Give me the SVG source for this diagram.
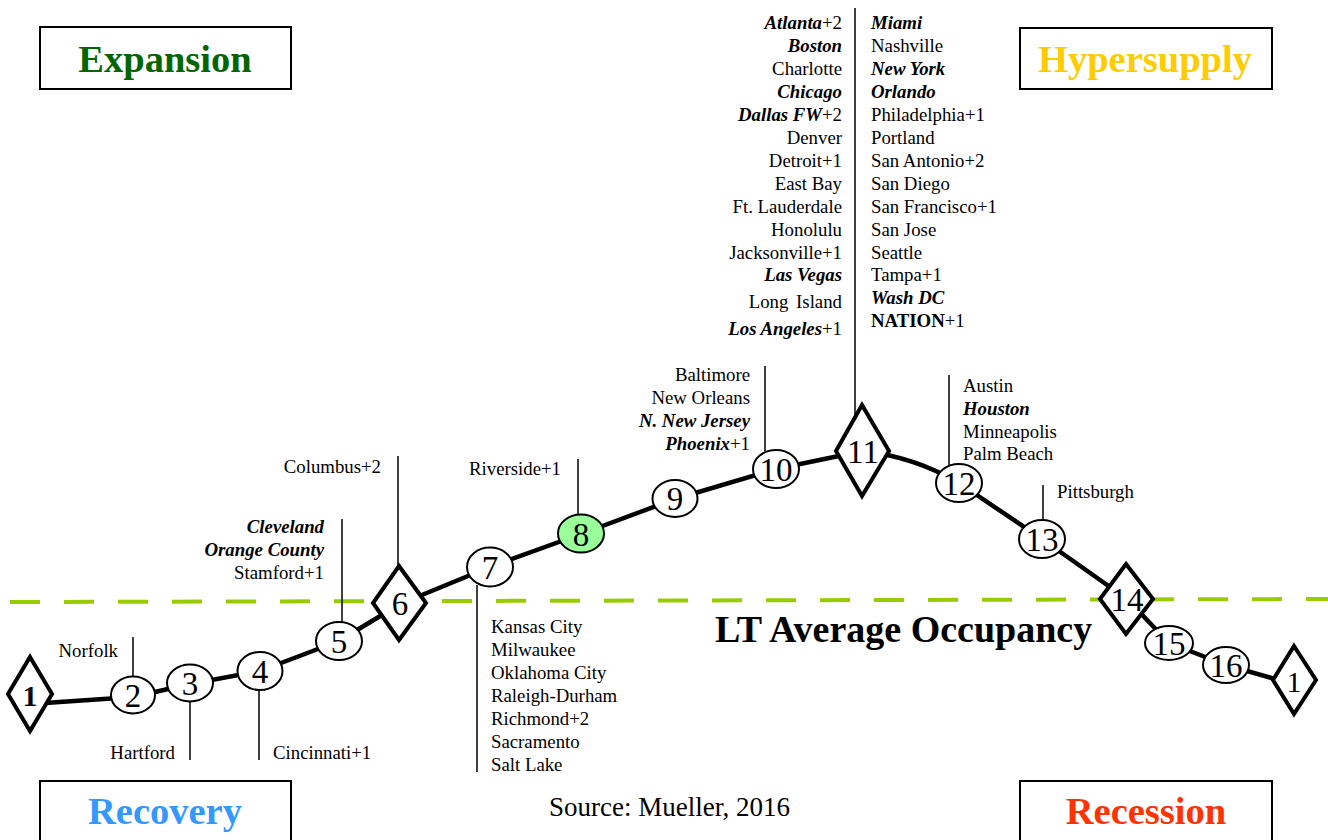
<svg xmlns="http://www.w3.org/2000/svg" width="1328" height="840" viewBox="0 0 1328 840">
  <style>
    text { font-family: "Liberation Serif", "Times New Roman", serif; fill: #000; }
    .city { font-size: 18.8px; }
    .r { text-anchor: end; }
    .bi { font-weight: bold; font-style: italic; }
    .b { font-weight: bold; }
    .num { font-size: 33px; text-anchor: middle; }
    .title { font-size: 38.5px; font-weight: bold; text-anchor: middle; }
    .box { fill: #fff; stroke: #000; stroke-width: 2; }
    .lead { stroke: #000; stroke-width: 1.5; fill: none; }
    .ell { fill: #fff; stroke: #000; stroke-width: 2; }
    .dia { fill: #fff; stroke: #000; stroke-width: 4; stroke-linejoin: miter; }
  </style>

  <rect width="1328" height="840" fill="#fff"/>

  <!-- phase boxes -->
  <g id="expansion">
    <rect class="box" x="40" y="27" width="251" height="62"/>
    <text class="title" x="165" y="72" style="fill:#006600">Expansion</text>
  </g>
  <g id="hypersupply">
    <rect class="box" x="1020" y="28" width="252" height="61"/>
    <text class="title" x="1145" y="72" style="fill:#FFCC00">Hypersupply</text>
  </g>
  <g id="recovery">
    <rect class="box" x="40" y="781" width="251" height="70"/>
    <text class="title" x="165" y="824" style="fill:#3399FF">Recovery</text>
  </g>
  <g id="recession">
    <rect class="box" x="1020" y="781" width="252" height="70"/>
    <text class="title" x="1146" y="824" style="fill:#FF3300">Recession</text>
  </g>

  <!-- long-term average occupancy line -->
  <g id="lt-average">
    <line x1="10" y1="602" x2="1328" y2="599" stroke="#99CC00" stroke-width="4" stroke-dasharray="30 24"/>
    <text x="715" y="642" style="font-size:38px;font-weight:bold">LT Average Occupancy</text>
  </g>

  <g id="source">
    <text x="549" y="816" style="font-size:27px">Source: Mueller, 2016</text>
  </g>

  <!-- cycle curve and leader lines -->
  <g id="connectors">
    <path d="M45,703 L133,697 L190,684 L260,671 L339,641 L400,604 L490,567 L581,534 L675,499 L776,469 L863,451 Q915,457 959,483 L1042,539 L1127,599 L1169,643 L1226,665 L1275,679" fill="none" stroke="#000" stroke-width="4.5" stroke-linejoin="round"/>
    <line class="lead" x1="133" y1="637" x2="133" y2="677"/>
    <line class="lead" x1="190" y1="700" x2="190" y2="760"/>
    <line class="lead" x1="259" y1="688" x2="259" y2="760"/>
    <line class="lead" x1="342" y1="519" x2="342" y2="623"/>
    <line class="lead" x1="398" y1="456" x2="398" y2="567"/>
    <line class="lead" x1="477" y1="585" x2="477" y2="772"/>
    <line class="lead" x1="578" y1="459" x2="578" y2="515"/>
    <line class="lead" x1="765" y1="366" x2="765" y2="451"/>
    <line class="lead" x1="855" y1="8" x2="855" y2="415"/>
    <line class="lead" x1="949" y1="375" x2="949" y2="469"/>
    <line class="lead" x1="1043" y1="485" x2="1043" y2="521"/>
  </g>

  <!-- cycle points -->
  <g id="n1-left">
    <polygon class="dia" points="30,657 52,694 30,731 8,694"/>
    <text class="num b" x="30" y="706" style="font-size:30px">1</text>
  </g>
  <g id="n2">
    <ellipse class="ell" cx="133" cy="695" rx="22" ry="18.5"/>
    <text class="num" x="133" y="707">2</text>
  </g>
  <g id="n3">
    <ellipse class="ell" cx="190" cy="683" rx="23" ry="18.5"/>
    <text class="num" x="190" y="695">3</text>
  </g>
  <g id="n4">
    <ellipse class="ell" cx="260" cy="671" rx="22.5" ry="19"/>
    <text class="num" x="260" y="683">4</text>
  </g>
  <g id="n5">
    <ellipse class="ell" cx="339" cy="641" rx="23" ry="19"/>
    <text class="num" x="339" y="653">5</text>
  </g>
  <g id="n6">
    <polygon class="dia" points="399,566 426,603 399,640 373,603"/>
    <text class="num" x="400" y="615">6</text>
  </g>
  <g id="n7">
    <ellipse class="ell" cx="490" cy="567" rx="23" ry="19.5"/>
    <text class="num" x="490" y="579">7</text>
  </g>
  <g id="n8">
    <ellipse class="ell" cx="581" cy="533.5" rx="23" ry="19" style="fill:#99FF99"/>
    <text class="num" x="581" y="546">8</text>
  </g>
  <g id="n9">
    <ellipse class="ell" cx="675" cy="498.5" rx="22.5" ry="18.5"/>
    <text class="num" x="675" y="510">9</text>
  </g>
  <g id="n10">
    <ellipse class="ell" cx="776" cy="469" rx="23" ry="19"/>
    <text class="num" x="776" y="481">10</text>
  </g>
  <g id="n11">
    <polygon class="dia" points="862,405 889,451 862,496 836,451"/>
    <text class="num" x="863" y="463">11</text>
  </g>
  <g id="n12">
    <ellipse class="ell" cx="959" cy="483" rx="23" ry="19"/>
    <text class="num" x="959" y="495">12</text>
  </g>
  <g id="n13">
    <ellipse class="ell" cx="1042" cy="539" rx="23" ry="19"/>
    <text class="num" x="1042" y="551">13</text>
  </g>
  <g id="n14">
    <polygon class="dia" points="1126,564 1153,599 1126,634 1100,599"/>
    <text class="num" x="1127" y="611">14</text>
  </g>
  <g id="n15">
    <ellipse class="ell" cx="1169" cy="643" rx="24" ry="17"/>
    <text class="num" x="1169" y="655">15</text>
  </g>
  <g id="n16">
    <ellipse class="ell" cx="1226" cy="665" rx="23" ry="18"/>
    <text class="num" x="1226" y="677">16</text>
  </g>
  <g id="n1-right">
    <polygon class="dia" points="1294,646 1316,680 1294,714 1273,680"/>
    <text class="num" x="1294" y="692" style="font-size:30px">1</text>
  </g>

  <!-- market labels -->
  <g id="labels-2-4" class="city">
    <text class="r" x="118" y="657">Norfolk</text>
    <text class="r" x="175" y="759">Hartford</text>
    <text x="273" y="759">Cincinnati+1</text>
  </g>
  <g id="labels-5" class="city">
    <text class="r bi" x="324" y="533">Cleveland</text>
    <text class="r bi" x="324" y="556">Orange County</text>
    <text class="r" x="324" y="579">Stamford+1</text>
  </g>
  <g id="labels-6" class="city">
    <text class="r" x="381" y="473">Columbus+2</text>
  </g>
  <g id="labels-7" class="city">
    <text x="491" y="633">Kansas City</text>
    <text x="491" y="656">Milwaukee</text>
    <text x="491" y="679">Oklahoma City</text>
    <text x="491" y="702">Raleigh-Durham</text>
    <text x="491" y="725">Richmond+2</text>
    <text x="491" y="748">Sacramento</text>
    <text x="491" y="771">Salt Lake</text>
  </g>
  <g id="labels-8" class="city">
    <text class="r" x="561" y="475">Riverside+1</text>
  </g>
  <g id="labels-10" class="city">
    <text class="r" x="750" y="381">Baltimore</text>
    <text class="r" x="750" y="404">New Orleans</text>
    <text class="r bi" x="750" y="427">N. New Jersey</text>
    <text class="r" x="750" y="450"><tspan class="bi">Phoenix</tspan>+1</text>
  </g>
  <g id="labels-11-left" class="city">
    <text class="r" x="842" y="28.5"><tspan class="bi">Atlanta</tspan>+2</text>
    <text class="r bi" x="842" y="51.5">Boston</text>
    <text class="r" x="842" y="74.5">Charlotte</text>
    <text class="r bi" x="842" y="97.5">Chicago</text>
    <text class="r" x="842" y="120.5"><tspan class="bi">Dallas FW</tspan>+2</text>
    <text class="r" x="842" y="143.5">Denver</text>
    <text class="r" x="842" y="166.5">Detroit+1</text>
    <text class="r" x="842" y="189.5">East Bay</text>
    <text class="r" x="842" y="212.5">Ft. Lauderdale</text>
    <text class="r" x="842" y="235.5">Honolulu</text>
    <text class="r" x="842" y="258.5">Jacksonville+1</text>
    <text class="r bi" x="842" y="281">Las Vegas</text>
    <text class="r" x="842" y="308" style="word-spacing:3px">Long Island</text>
    <text class="r" x="842" y="335"><tspan class="bi">Los Angeles</tspan>+1</text>
  </g>
  <g id="labels-11-right" class="city">
    <text class="bi" x="871" y="28.5">Miami</text>
    <text x="871" y="51.5">Nashville</text>
    <text class="bi" x="871" y="74.5">New York</text>
    <text class="bi" x="871" y="97.5">Orlando</text>
    <text x="871" y="120.5">Philadelphia+1</text>
    <text x="871" y="143.5">Portland</text>
    <text x="871" y="166.5">San Antonio+2</text>
    <text x="871" y="189.5">San Diego</text>
    <text x="871" y="212.5">San Francisco+1</text>
    <text x="871" y="235.5">San Jose</text>
    <text x="871" y="258.5">Seattle</text>
    <text x="871" y="281">Tampa+1</text>
    <text class="bi" x="871" y="304">Wash DC</text>
    <text x="871" y="327"><tspan class="b">NATION</tspan>+1</text>
  </g>
  <g id="labels-12" class="city">
    <text x="963" y="392">Austin</text>
    <text class="bi" x="963" y="415">Houston</text>
    <text x="963" y="438">Minneapolis</text>
    <text x="963" y="460">Palm Beach</text>
  </g>
  <g id="labels-13" class="city">
    <text x="1057" y="498">Pittsburgh</text>
  </g>
</svg>
